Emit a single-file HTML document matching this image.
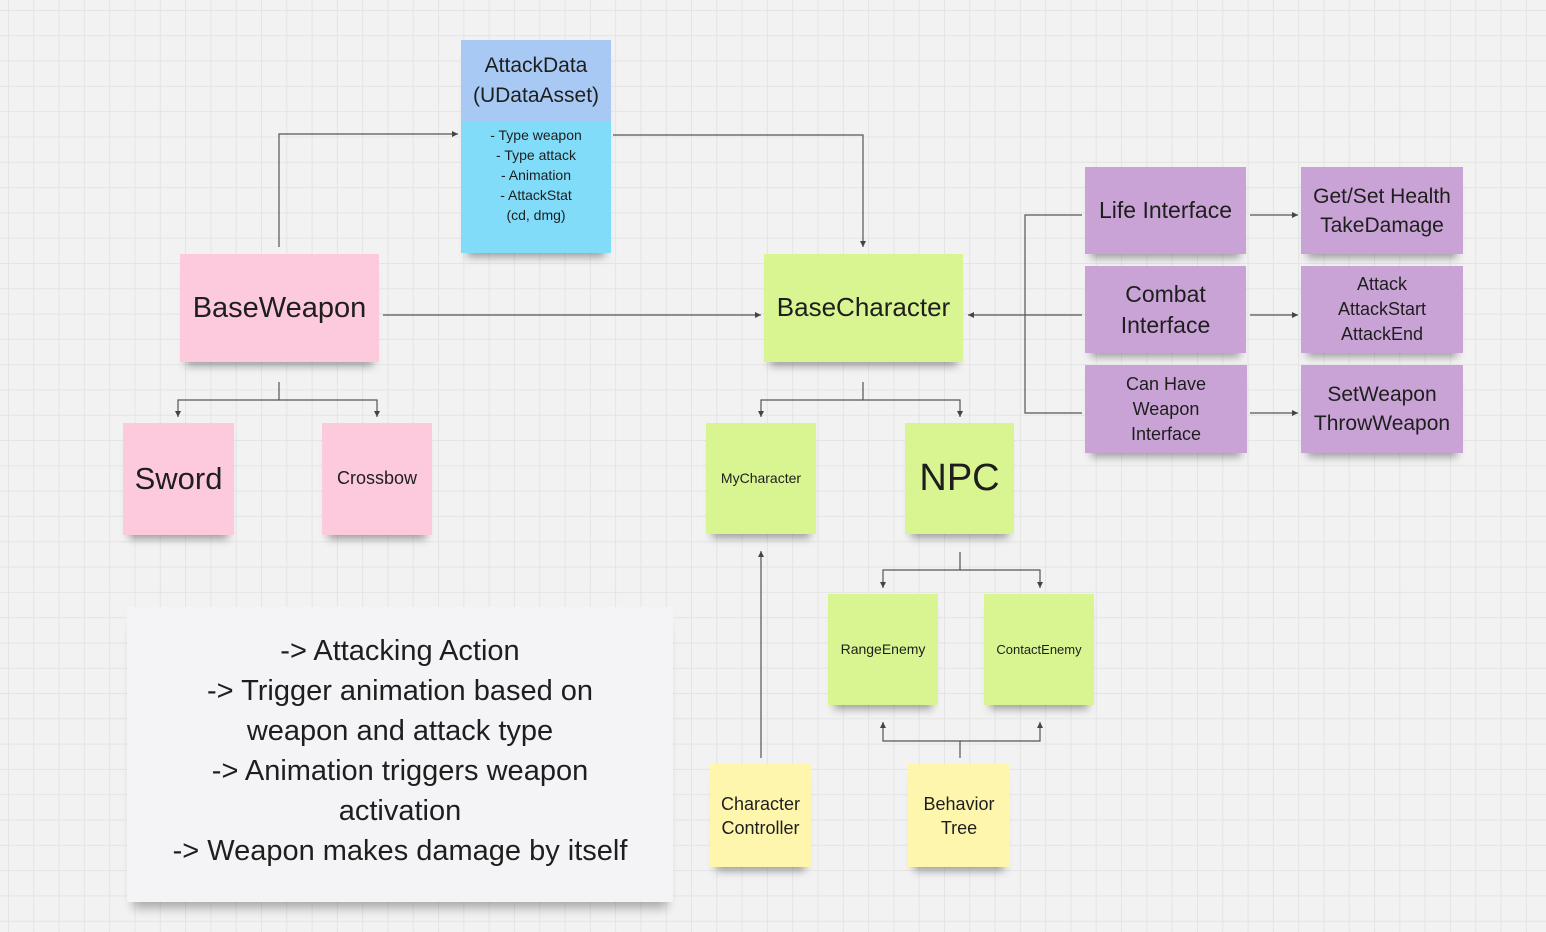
<!DOCTYPE html>
<html><head><meta charset="utf-8"><style>
body{margin:0;width:1546px;height:932px;overflow:hidden;background-color:#f2f2f2;
background-image:linear-gradient(#e4e4e4 1px,transparent 1px),linear-gradient(90deg,#e4e4e4 1px,transparent 1px);
background-size:25.3px 25.3px;background-position:8px 10px;font-family:"Liberation Sans","DejaVu Sans",sans-serif;position:relative}
.n{position:absolute;display:flex;align-items:center;justify-content:center;text-align:center;color:#1e1e1e;box-shadow:0 10px 8px -6px rgba(0,0,0,.35);line-height:1.2}
.p{background:#fdcadd}.g{background:#d9f592}.v{background:#c9a3d6}.y{background:#fff6ad}
svg{position:absolute;left:0;top:0}
</style></head><body>
<div class="n" style="left:461px;top:40px;width:150px;height:213px;background:#80dcf9;flex-direction:column;justify-content:flex-start">
 <div style="background:#a7c9f4;width:150px;height:82px;display:flex;align-items:center;justify-content:center;font-size:21px;line-height:30px">AttackData<br>(UDataAsset)</div>
 <div style="font-size:14px;line-height:20px;margin-top:3px">- Type weapon<br>- Type attack<br>- Animation<br>- AttackStat<br>(cd, dmg)</div>
</div>
<div class="n p" style="left:180px;top:254px;width:199px;height:108px;font-size:29px">BaseWeapon</div>
<div class="n p" style="left:123px;top:423px;width:111px;height:112px;font-size:31px">Sword</div>
<div class="n p" style="left:322px;top:423px;width:110px;height:112px;font-size:18px">Crossbow</div>
<div class="n g" style="left:764px;top:254px;width:199px;height:108px;font-size:26px">BaseCharacter</div>
<div class="n g" style="left:706px;top:423px;width:110px;height:111px;font-size:14px">MyCharacter</div>
<div class="n g" style="left:905px;top:423px;width:109px;height:111px;font-size:38px">NPC</div>
<div class="n g" style="left:828px;top:594px;width:110px;height:111px;font-size:14px">RangeEnemy</div>
<div class="n g" style="left:984px;top:594px;width:110px;height:111px;font-size:13px">ContactEnemy</div>
<div class="n y" style="left:710px;top:764px;width:101px;height:103px;font-size:18px;line-height:24px">Character<br>Controller</div>
<div class="n y" style="left:908px;top:764px;width:102px;height:103px;font-size:18px;line-height:24px">Behavior<br>Tree</div>
<div class="n v" style="left:1085px;top:167px;width:161px;height:87px;font-size:23px">Life Interface</div>
<div class="n v" style="left:1085px;top:266px;width:161px;height:87px;font-size:23px;line-height:31px">Combat<br>Interface</div>
<div class="n v" style="left:1085px;top:365px;width:162px;height:88px;font-size:18px;line-height:25px">Can Have<br>Weapon<br>Interface</div>
<div class="n v" style="left:1301px;top:167px;width:162px;height:87px;font-size:21px;line-height:29px">Get/Set Health<br>TakeDamage</div>
<div class="n v" style="left:1301px;top:266px;width:162px;height:87px;font-size:18px;line-height:25px">Attack<br>AttackStart<br>AttackEnd</div>
<div class="n v" style="left:1301px;top:365px;width:162px;height:88px;font-size:21px;line-height:29px">SetWeapon<br>ThrowWeapon</div>
<div class="n" style="left:127px;top:607px;width:546px;height:295px;background:#f4f4f6;font-size:29px;line-height:40px;box-shadow:0 12px 10px -6px rgba(0,0,0,.3);padding-bottom:8px;box-sizing:border-box">-&gt; Attacking Action<br>-&gt; Trigger animation based on<br>weapon and attack type<br>-&gt; Animation triggers weapon<br>activation<br>-&gt; Weapon makes damage by itself</div>
<svg width="1546" height="932" fill="none" stroke="#555" stroke-width="1.2">
<defs><marker id="a" markerWidth="6" markerHeight="6" refX="5" refY="3" orient="auto"><path d="M0,0.5L5,3L0,5.5z" fill="#444" stroke="none"/></marker></defs>
<g marker-end="url(#a)">
<path d="M279,247V134H458"/>
<path d="M613,135H863V247"/>
<path d="M383,315H761"/>
<path d="M1025,315H968"/>
<path d="M1250,215H1298"/><path d="M1250,315H1298"/><path d="M1250,413H1298"/>
<path d="M279,382V400H178V417"/><path d="M279,400H377V417"/>
<path d="M863,382V400H761V417"/><path d="M863,400H960V417"/>
<path d="M960,552V570H883V588"/><path d="M960,570H1040V588"/>
<path d="M960,758V741H883V722"/><path d="M960,741H1040V722"/>
<path d="M761,758V551"/>
</g>
<path d="M1082,215H1025V413H1082M1025,315H1082"/>
</svg>
</body></html>
